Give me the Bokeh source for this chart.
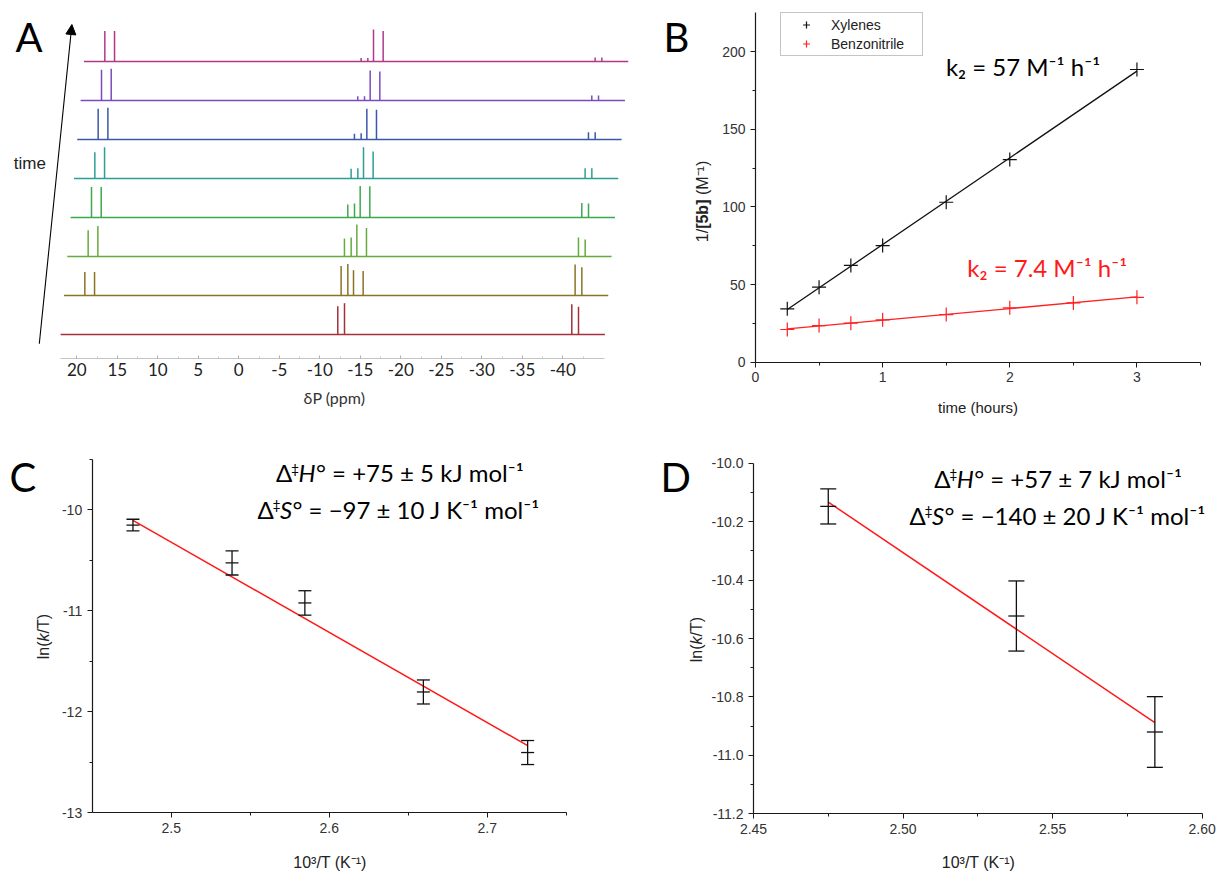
import numpy as np
from bokeh.plotting import figure
from bokeh.layouts import column, row
from bokeh.models import (Range1d, FixedTicker, Label, Arrow, NormalHead, Legend,
                          LegendItem, ColumnDataSource)
from bokeh.embed import file_html
from bokeh.resources import INLINE

# ================= Panel A : stacked 31P NMR spectra (bottom = first) =================
PEAK_PPM = [19.42, 18.22, -12.22, -13.05, -13.75, -14.94, -41.11, -41.94]
SPEC_1 = [0.0, 0.0, 28.3, 31.3, 0.0, 0.0, 30.3, 27.7]
SPEC_2 = [23.6, 23.6, 29.6, 31.6, 25.3, 24.6, 31.0, 28.3]
SPEC_3 = [26.3, 30.6, 18.0, 19.0, 32.0, 28.6, 19.0, 17.0]
SPEC_4 = [30.6, 30.6, 13.0, 14.0, 31.6, 31.3, 14.6, 14.0]
SPEC_5 = [26.3, 31.3, 9.7, 10.3, 31.3, 27.0, 10.3, 10.3]
SPEC_6 = [30.7, 31.7, 5.7, 6.3, 30.7, 29.7, 7.3, 7.3]
SPEC_7 = [30.7, 31.7, 4.3, 4.3, 30.0, 29.0, 5.0, 5.0]
SPEC_8 = [30.6, 30.6, 3.6, 3.6, 32.0, 30.6, 4.0, 4.0]
SPECTRA = [SPEC_1, SPEC_2, SPEC_3, SPEC_4, SPEC_5, SPEC_6, SPEC_7, SPEC_8]
SPEC_COLORS = ["#a3303a", "#8a7424", "#66ab3c", "#3fa84e", "#2c9e97",
               "#3b57aa", "#7b4cbe", "#b0388a"]
SPEC_WINDOW = [22.0, -45.2]
STACK_DY = 39.0
STACK_DPPM = 0.4115
A_TICKS = [20, 15, 10, 5, 0, -5, -10, -15, -20, -25, -30, -35, -40]
A_TICK_LABELS = ["20", "15", "10", "5", "0", "-5", "-10", "-15", "-20", "-25", "-30", "-35", "-40"]
A_MINOR = [17.5, 12.5, 7.5, 2.5, -2.5, -7.5, -12.5, -17.5, -22.5, -27.5, -32.5, -37.5, -42.5]

# ================= Panel B : second-order plots =================
B_T_XYL = [0.25, 0.5, 0.75, 1.0, 1.5, 2.0, 3.0]
B_XYL = [34.4, 48.3, 62.3, 75.1, 103.0, 130.5, 188.5]
B_T_BN = [0.25, 0.5, 0.75, 1.0, 1.5, 2.0, 2.5, 3.0]
B_BN = [21.05, 23.6, 25.1, 27.3, 30.7, 35.0, 38.2, 41.8]
B_XTICKS = [0, 1, 2, 3]
B_XLABELS = ["0", "1", "2", "3"]
B_YTICKS = [0, 50, 100, 150, 200]
B_YLABELS = ["0", "50", "100", "150", "200"]

# ================= Panel C : Eyring plot =================
C_X = [2.4758, 2.5385, 2.5846, 2.6596, 2.7256]
C_Y = [-10.150, -10.525, -10.921, -11.803, -12.403]
C_ERR = [0.058, 0.119, 0.121, 0.119, 0.119]
C_FIT = [-8.935, 12.019]          # slope, intercept of red line
C_XTICKS = [2.5, 2.6, 2.7]
C_XLABELS = ["2.5", "2.6", "2.7"]
C_YTICKS = [-13, -12, -11, -10]
C_YLABELS = ["-13", "-12", "-11", "-10"]

# ================= Panel D : Eyring plot =================
D_X = [2.4750, 2.5379, 2.5842]
D_Y = [-10.148, -10.523, -10.920]
D_ERR = [0.060, 0.120, 0.121]
D_FIT = [-6.914, 6.979]
D_XTICKS = [2.45, 2.50, 2.55, 2.60]
D_XLABELS = ["2.45", "2.50", "2.55", "2.60"]
D_YTICKS = [-11.2, -11.0, -10.8, -10.6, -10.4, -10.2, -10.0]
D_YLABELS = ["-11.2", "-11.0", "-10.8", "-10.6", "-10.4", "-10.2", "-10.0"]


class Geo:
    """Canvas placement of a panel: (page px) <-> data, frame = whole canvas."""
    def __init__(self, cx, cy, w, h, mx, my):
        sxa, xa, sxb, xb = mx
        sya, ya, syb, yb = my
        kx = (xb - xa) / (sxb - sxa)
        ky = (yb - ya) / (syb - sya)
        self.cx, self.cy, self.w, self.h = cx, cy, w, h
        self.xr = (xa + (cx - sxa) * kx, xa + (cx + w - sxa) * kx)
        self.yr = (ya + (cy + h - sya) * ky, ya + (cy - sya) * ky)

    def d(self, sx, sy):
        x = self.xr[0] + (sx - self.cx) / self.w * (self.xr[1] - self.xr[0])
        y = self.yr[1] - (sy - self.cy) / self.h * (self.yr[1] - self.yr[0])
        return x, y


def make_fig(g, yaxis=True):
    kw = {} if yaxis else {"y_axis_location": None}
    p = figure(width=g.w, height=g.h, x_range=Range1d(*g.xr), y_range=Range1d(*g.yr),
               output_backend="svg", toolbar_location=None,
               min_border_left=0, min_border_right=0,
               min_border_top=0, min_border_bottom=0, **kw)
    p.outline_line_color = None
    p.grid.visible = False
    p.background_fill_color = "white"
    p.border_fill_color = "white"
    return p


def style_axes(p):
    for ax in p.axis:
        ax.axis_line_color = "#1a1a1a"
        ax.axis_line_width = 1.2
        ax.major_tick_line_color = "#1a1a1a"
        ax.minor_tick_line_color = "#1a1a1a"
        ax.major_tick_in = 0
        ax.major_tick_out = 5
        ax.minor_tick_in = 0
        ax.minor_tick_out = 3
        ax.major_label_text_font = "Liberation Sans"
        ax.major_label_text_font_size = "14px"
        ax.major_label_text_color = "#333333"
        ax.major_label_standoff = 5
        ax.axis_label = None


def place_axes(p, xr, yr):
    p.xaxis[0].fixed_location = yr[0]
    p.xaxis[0].bounds = xr
    p.yaxis[0].fixed_location = xr[0]
    p.yaxis[0].bounds = yr


def set_ticks(ax, ticks, labels, minor):
    ax.ticker = FixedTicker(ticks=ticks, minor_ticks=minor)
    ax.major_label_overrides = {t: l for t, l in zip(ticks, labels)}


def put(p, g, sx, sy, text, size, font="Lato", color="#000000", align="left",
        baseline="alphabetic", angle=0.0, style="normal"):
    # 'alphabetic' requests are placed as 'middle' with a font-based shift
    if baseline == "alphabetic":
        sy = sy - (0.387 if font == "Lato" else 0.347) * size
        baseline = "middle"
    x, y = g.d(sx, sy)
    p.add_layout(Label(x=x, y=y, text=text, text_font=font, text_font_size=f"{size}px",
                       text_color=color, text_align=align, text_baseline=baseline,
                       angle=angle, text_font_style=style))


def rotated(p, g, sx, sy_start, pieces, size):
    sy = sy_start
    for text, style, w in pieces:
        put(p, g, sx, sy, text, size, font="Liberation Sans", color="#222222",
            align="left", baseline="middle", angle=np.pi / 2, style=style)
        sy -= w * size / 1000.0


def eyring_line(p, g, sx, sy, letter, rest, size=24):
    put(p, g, sx, sy, "\u0394", size)
    put(p, g, sx + 15.0, sy - 8.5, "\u2021", 14)
    put(p, g, sx + 22.5, sy, letter, size, style="italic")
    wl = 17.5 if letter == "H" else 12.5
    put(p, g, sx + 22.5 + wl, sy, rest, size)


# ------------------------------------------------------------------ A
gA = Geo(0, 0, 640, 416, (238.3, 0.0, 562.3, -40.0), (334.0, 0.0, 295.0, 39.0))
pA = make_fig(gA, yaxis=False)
for k, (spec, col) in enumerate(zip(SPECTRA, SPEC_COLORS)):
    base = k * STACK_DY
    shift = k * STACK_DPPM
    pA.segment(x0=[SPEC_WINDOW[0] - shift], y0=[base], x1=[SPEC_WINDOW[1] - shift], y1=[base],
               line_color=col, line_width=1.4)
    xs = [pp - shift for pp, h in zip(PEAK_PPM, spec) if h > 0]
    hs = [base + h for h in spec if h > 0]
    pA.segment(x0=xs, y0=[base] * len(xs), x1=xs, y1=hs, line_color=col, line_width=1.5)

ax = pA.xaxis[0]
set_ticks(ax, A_TICKS, A_TICK_LABELS, A_MINOR)
ax.fixed_location = gA.d(0, 358.3)[1]
ax.bounds = (SPEC_WINDOW[1], SPEC_WINDOW[0])
ax.axis_line_color = "#c4c4c4"
ax.axis_line_width = 1
ax.major_tick_line_color = "#b0b0b0"
ax.minor_tick_line_color = "#c8c8c8"
ax.major_tick_in = 3
ax.major_tick_out = 0
ax.minor_tick_in = 2
ax.minor_tick_out = 0
ax.major_label_text_font = "Lato"
ax.major_label_text_font_size = "17px"
ax.major_label_text_color = "#222222"
ax.major_label_standoff = 4
ax.axis_label = None

ax0, ay0 = gA.d(38.8, 343.3)
ax1, ay1 = gA.d(71.4, 24.0)
pA.add_layout(Arrow(end=NormalHead(size=10, fill_color="black", line_color="black", line_width=1),
                    x_start=ax0, y_start=ay0, x_end=ax1, y_end=ay1,
                    line_color="black", line_width=1.1))
put(pA, gA, 29.3, 163.3, "time", 17, font="Liberation Sans", color="#222222",
    align="center", baseline="middle")
put(pA, gA, 334, 397, "\u03b4P (ppm)", 16, color="#333333", align="center", baseline="middle")
put(pA, gA, 15, 52.3, "A", 40)

# ------------------------------------------------------------------ B
gB = Geo(640, 0, 577, 416, (755.0, 0.0, 1200.0, 3.5), (361.7, 0.0, 12.3, 225.0))
pB = make_fig(gB)
style_axes(pB)
place_axes(pB, (0, 3.5), (0, 225))
set_ticks(pB.xaxis[0], B_XTICKS, B_XLABELS, [0.5, 1.5, 2.5, 3.5])
set_ticks(pB.yaxis[0], B_YTICKS, B_YLABELS, [25, 75, 125, 175])

fx = np.polyfit(B_T_XYL, B_XYL, 1)
xx = [B_T_XYL[0], B_T_XYL[-1]]
pB.line(xx, list(np.polyval(fx, xx)), line_color="#111111", line_width=1.3)
fb = np.polyfit(B_T_BN, B_BN, 1)
xb = [B_T_BN[0], B_T_BN[-1]]
pB.line(xb, list(np.polyval(fb, xb)), line_color="#ff2020", line_width=1.3)
rX = pB.scatter(B_T_XYL, B_XYL, marker="cross", size=14, line_color="#111111", line_width=1.2)
rB = pB.scatter(B_T_BN, B_BN, marker="cross", size=14, line_color="#ff2020", line_width=1.2)

items = [LegendItem(label="Xylenes", renderers=[rX]),
         LegendItem(label="Benzonitrile", renderers=[rB])]
common = dict(margin=0, border_line_color="#8a8a8a", border_line_width=1,
              background_fill_color="white", background_fill_alpha=1.0,
              label_text_font="Liberation Sans", label_text_font_size="14px",
              label_text_color="#222222")
try:
    leg = Legend(items=items, location=(140, 361), padding=-6, spacing=-15,
                 glyph_width=56, glyph_height=34, label_height=34, label_width=97,
                 label_standoff=0, **common)
except Exception:
    leg = Legend(items=items, location=(140, 360), padding=3, spacing=2,
                 glyph_width=44, glyph_height=17, label_height=17, label_width=88,
                 label_standoff=3, **common)
pB.add_layout(leg)

put(pB, gB, 945.4, 75, "k\u2082 = 57 M\u207b\u00b9 h\u207b\u00b9", 24)
put(pB, gB, 966.8, 276, "k\u2082 = 7.4 M\u207b\u00b9 h\u207b\u00b9", 24, color="#ff1a1a")
put(pB, gB, 977.5, 406.7, "time (hours)", 15, font="Liberation Sans", color="#222222",
    align="center", baseline="middle")
rotated(pB, gB, 701.7, 241.7, [("1/", "normal", 834), ("[5b]", "bold", 2111),
                               ("(M\u207b\u00b9)", "normal", 2200)], 16)
put(pB, gB, 663, 51.7, "B", 40)

# ------------------------------------------------------------------ C
gC = Geo(0, 416, 600, 456, (91.7, 2.45, 565.7, 2.75), (812.3, -13.0, 459.0, -9.5))
pC = make_fig(gC)
style_axes(pC)
place_axes(pC, (2.45, 2.75), (-13, -9.5))
set_ticks(pC.xaxis[0], C_XTICKS, C_XLABELS, [2.55, 2.65, 2.75])
set_ticks(pC.yaxis[0], C_YTICKS, C_YLABELS, [-12.5, -11.5, -10.5, -9.5])

xc = [C_X[0], C_X[-1]]
pC.line(xc, [C_FIT[0] * v + C_FIT[1] for v in xc], line_color="#ff1a1a", line_width=1.5)
srcC = ColumnDataSource(dict(x=C_X, y=C_Y, lo=[y - e for y, e in zip(C_Y, C_ERR)],
                             hi=[y + e for y, e in zip(C_Y, C_ERR)]))
pC.segment(x0="x", y0="lo", x1="x", y1="hi", source=srcC, line_color="#111111", line_width=1.3)
for col in ("lo", "hi", "y"):
    pC.scatter("x", col, source=srcC, marker="dash", size=13, line_color="#111111", line_width=1.3)

eyring_line(pC, gC, 275.5, 481.7, "H", "\u00b0 = +75 \u00b1 5 kJ mol\u207b\u00b9")
eyring_line(pC, gC, 257.0, 518.3, "S", "\u00b0 = \u221297 \u00b1 10 J K\u207b\u00b9 mol\u207b\u00b9")
rotated(pC, gC, 43.3, 658.7, [("ln(", "normal", 1111), ("k", "italic", 500),
                              ("/T)", "normal", 1222)], 16)
put(pC, gC, 329.5, 861.7, "10\u00b3/T (K\u207b\u00b9)", 16, font="Liberation Sans",
    color="#222222", align="center", baseline="middle")
put(pC, gC, 9, 492, "C", 40)

# ------------------------------------------------------------------ D
gD = Geo(600, 416, 617, 456, (753.0, 2.45, 1201.6, 2.60), (813.3, -11.2, 462.7, -10.0))
pD = make_fig(gD)
style_axes(pD)
place_axes(pD, (2.45, 2.60), (-11.2, -10.0))
set_ticks(pD.xaxis[0], D_XTICKS, D_XLABELS, [2.475, 2.525, 2.575])
set_ticks(pD.yaxis[0], D_YTICKS, D_YLABELS,
          [-11.1, -10.9, -10.7, -10.5, -10.3, -10.1])

xd = [D_X[0], D_X[-1]]
pD.line(xd, [D_FIT[0] * v + D_FIT[1] for v in xd], line_color="#ff1a1a", line_width=1.5)
srcD = ColumnDataSource(dict(x=D_X, y=D_Y, lo=[y - e for y, e in zip(D_Y, D_ERR)],
                             hi=[y + e for y, e in zip(D_Y, D_ERR)]))
pD.segment(x0="x", y0="lo", x1="x", y1="hi", source=srcD, line_color="#111111", line_width=1.3)
for col in ("lo", "hi", "y"):
    pD.scatter("x", col, source=srcD, marker="dash", size=16, line_color="#111111", line_width=1.3)

eyring_line(pD, gD, 933.7, 487.3, "H", "\u00b0 = +57 \u00b1 7 kJ mol\u207b\u00b9")
eyring_line(pD, gD, 909.0, 524.0, "S", "\u00b0 = \u2212140 \u00b1 20 J K\u207b\u00b9 mol\u207b\u00b9")
rotated(pD, gD, 696.4, 661.7, [("ln(", "normal", 1111), ("k", "italic", 500),
                               ("/T)", "normal", 1222)], 16)
put(pD, gD, 978, 861.7, "10\u00b3/T (K\u207b\u00b9)", 16, font="Liberation Sans",
    color="#222222", align="center", baseline="middle")
put(pD, gD, 660, 492, "D", 40)

layout = column(row(pA, pB), row(pC, pD))
open("out.html", "w").write(file_html(layout, INLINE))
